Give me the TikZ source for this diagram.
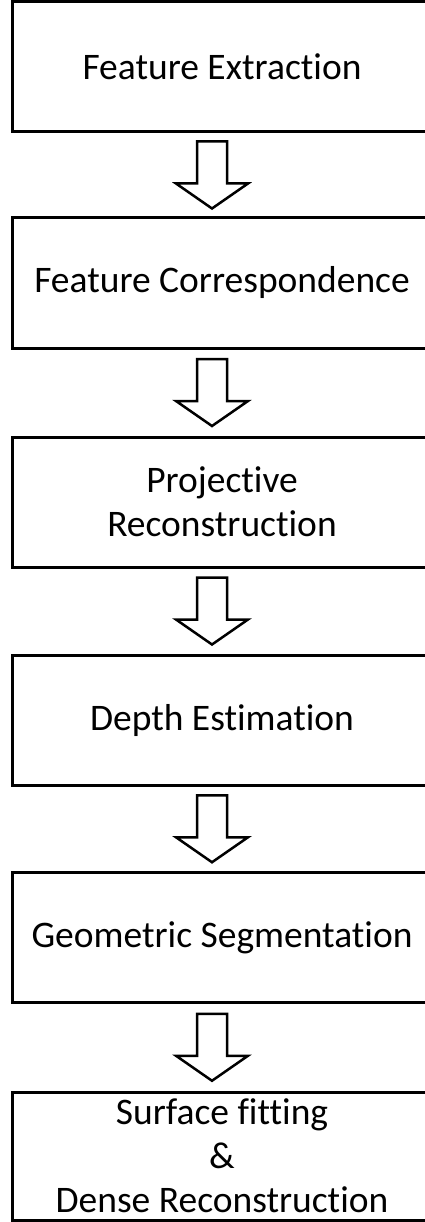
\documentclass[tikz,border=0pt]{standalone}
\usepackage{fontspec}
\setmainfont{Carlito}[Ligatures=NoCommon]
\usetikzlibrary{positioning, calc}

\begin{document}
\begin{tikzpicture}[x=1pt, y=1pt,
  stage/.style={draw, line width=3pt, minimum width=420pt, minimum height=130pt, inner sep=0pt, align=center, font=\fontsize{37.5}{44}\selectfont},
  blockarrow/.style={draw, line width=2.5pt, line join=miter, fill=white}
]
\useasboundingbox (0,0) rectangle (425,-1222);

\node[stage] (feat) at (222,-67) {Feature Extraction};
\node[stage] (corr) at (222,-283) {Feature Correspondence};
\node[stage] (proj) at (222,-502) {Projective\\Reconstruction};
\node[stage] (depth) at (222,-720) {Depth Estimation};
\node[stage] (seg) at (222,-937.5) {Geometric Segmentation};
\node[stage, minimum height=128pt] (surf) at (222,-1156) {Surface fitting\\\&\\Dense Reconstruction};

% hollow block arrows between stages
\foreach \a/\b in {feat/corr, corr/proj, proj/depth, depth/seg, seg/surf}
  \draw[blockarrow] ($(\a.south)!0.5!(\b.north)+(-10,0)$) ++(-15,33.5) -- ++(30,0) -- ++(0,-42)
    -- ++(21,0) -- ++(-36,-25) -- ++(-36,25) -- ++(21,0) -- cycle;
\end{tikzpicture}
\end{document}
